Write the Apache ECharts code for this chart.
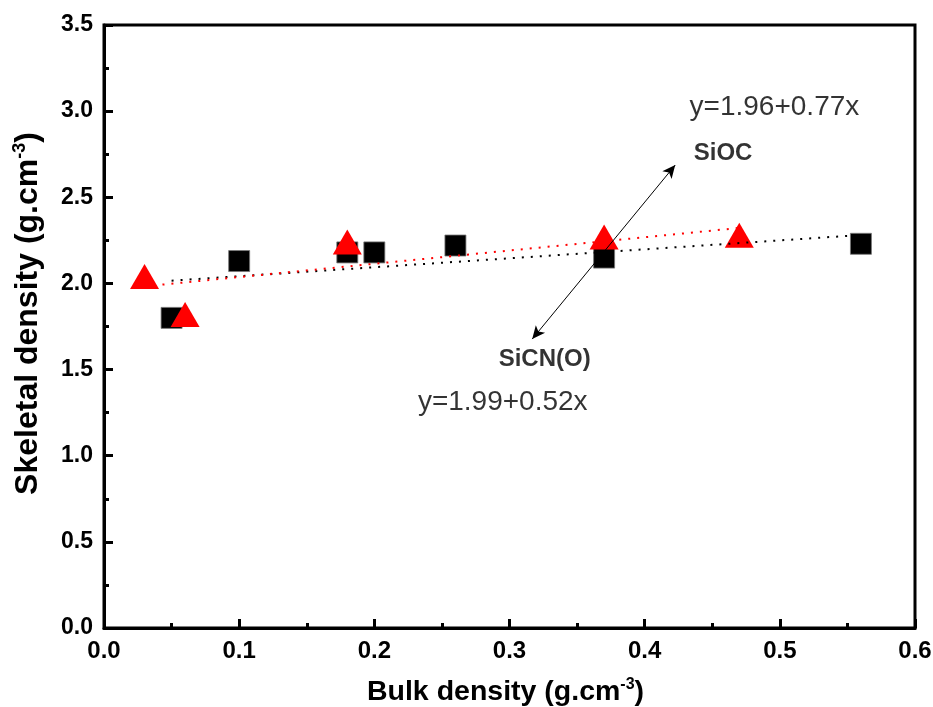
<!DOCTYPE html>
<html>
<head>
<meta charset="utf-8">
<script src="https://cdn.jsdelivr.net/npm/echarts@6/dist/echarts.min.js"></script>
<style>html,body{margin:0;padding:0;background:#fff;}#c{width:933px;height:707px;}</style>
</head>
<body>
<div id="c"></div>
<script>
// Data
var sicnX = [0.05, 0.10, 0.18, 0.20, 0.26, 0.37, 0.56];
var sicnY = [1.80, 2.13, 2.18, 2.18, 2.22, 2.15, 2.23];
var siocX = [0.03, 0.06, 0.18, 0.37, 0.47];
var siocY = [2.04, 1.82, 2.24, 2.27, 2.28];
// Linear fit end points (y=1.99+0.52x and y=1.96+0.77x)
var fitSicnX = [0.05, 0.56];
var fitSicnY = [2.016, 2.281];
var fitSiocX = [0.03, 0.47];
var fitSiocY = [1.983, 2.322];
// Annotations
var annoText = ['y=1.96+0.77x', 'SiOC', 'SiCN(O)', 'y=1.99+0.52x'];
var annoX = [0.496, 0.458, 0.326, 0.295];
var annoY = [3.02, 2.757, 1.561, 1.312];
var annoBold = [false, true, true, false];
var arrowX = [0.3168, 0.4226];
var arrowY = [1.677, 2.687];
var xTicks = [0, 0.1, 0.2, 0.3, 0.4, 0.5, 0.6];
var yTicks = [0, 0.5, 1.0, 1.5, 2.0, 2.5, 3.0, 3.5];

function zip(a, b) { return a.map(function (v, i) { return [v, b[i]]; }); }

var FF = "'Liberation Sans', Arial, sans-serif";
var chart = echarts.init(document.getElementById('c'), null, {renderer: 'canvas'});

var annoData = annoText.map(function (t, i) {
  return {
    value: [annoX[i], annoY[i]],
    name: t,
    label: {
      show: true, position: 'inside', formatter: t,
      fontFamily: FF, color: '#000', textBorderWidth: 0,
      fontSize: annoBold[i] ? 24 : 28,
      fontWeight: annoBold[i] ? 'bold' : 'normal'
    }
  };
});

chart.setOption({
  animation: false,
  backgroundColor: '#fff',
  grid: {left: 104, right: 18, top: 25, bottom: 79, containLabel: false, outerBoundsMode: 'none',
         show: true, borderColor: '#000', borderWidth: 3, backgroundColor: 'transparent'},
  xAxis: {
    type: 'value', min: xTicks[0], max: xTicks[xTicks.length - 1], interval: 0.1,
    name: '{a|Bulk density (g.cm}{s|-3}{a|)}',
    nameLocation: 'middle', nameGap: 49,
    nameTextStyle: {
      padding: [0, 8, 0, 0],
      rich: {
        a: {fontFamily: FF, fontSize: 28.5, fontWeight: 'bold', color: '#000'},
        s: {fontFamily: FF, fontSize: 16, fontWeight: 'bold', color: '#000', verticalAlign: 'top', padding: [0, 0, 15, 0]}
      }
    },
    axisLine: {show: true, onZero: false, lineStyle: {color: '#000', width: 3}},
    axisTick: {show: true, inside: true, length: 9, lineStyle: {color: '#000', width: 3}},
    minorTick: {show: true, splitNumber: 2, length: 5, lineStyle: {color: '#000', width: 3}},
    splitLine: {show: false},
    axisLabel: {
      margin: 11, fontFamily: FF, fontSize: 24, fontWeight: 'bold', color: '#000',
      formatter: function (v) { return v.toFixed(1); }
    }
  },
  yAxis: {
    type: 'value', min: yTicks[0], max: yTicks[yTicks.length - 1], interval: 0.5,
    name: '{a|Skeletal density (g.cm}{s|-3}{a|)}',
    nameLocation: 'middle', nameGap: 58,
    nameTextStyle: {
      padding: [0, 0, 0, 26],
      rich: {
        a: {fontFamily: FF, fontSize: 32, fontWeight: 'bold', color: '#000'},
        s: {fontFamily: FF, fontSize: 18, fontWeight: 'bold', color: '#000', verticalAlign: 'top', padding: [0, 0, 17, 0]}
      }
    },
    axisLine: {show: true, onZero: false, lineStyle: {color: '#000', width: 3}},
    axisTick: {show: true, inside: true, length: 9, lineStyle: {color: '#000', width: 3}},
    minorTick: {show: true, splitNumber: 2, length: 5, lineStyle: {color: '#000', width: 3}},
    splitLine: {show: false},
    axisLabel: {
      margin: 11, fontFamily: FF, fontSize: 23, fontWeight: 'bold', color: '#000',
      formatter: function (v) { return v.toFixed(1); }
    }
  },
  series: [
    {
      name: 'arrow', type: 'line', data: [], z: 1,
      markLine: {
        silent: true, symbol: ['arrow', 'arrow'], symbolSize: [9, 13],
        label: {show: false},
        lineStyle: {color: '#000', width: 1, type: 'solid'},
        data: [[{coord: [arrowX[0], arrowY[0]]}, {coord: [arrowX[1], arrowY[1]]}]]
      }
    },
    {
      name: 'SiCN(O)', type: 'scatter', z: 2, symbol: 'rect', symbolSize: 21,
      itemStyle: {color: '#000', borderColor: '#777', borderWidth: 0.8, opacity: 1},
      data: zip(sicnX, sicnY)
    },
    {
      name: 'SiOC', type: 'scatter', z: 3, symbol: 'triangle', symbolSize: [29, 25],
      itemStyle: {color: '#ff0000', opacity: 1},
      data: zip(siocX, siocY)
    },
    {
      name: 'fitSiCN', type: 'line', z: 4, showSymbol: false, symbol: 'none',
      lineStyle: {color: '#000', width: 2, type: [2, 7]},
      data: zip(fitSicnX, fitSicnY)
    },
    {
      name: 'fitSiOC', type: 'line', z: 4, showSymbol: false, symbol: 'none',
      lineStyle: {color: '#ff0000', width: 2, type: [2, 7]},
      data: zip(fitSiocX, fitSiocY)
    },
    {
      name: 'anno', type: 'scatter', z: 5, symbolSize: 0, silent: true,
      data: annoData
    }
  ]
});
</script>
</body>
</html>
